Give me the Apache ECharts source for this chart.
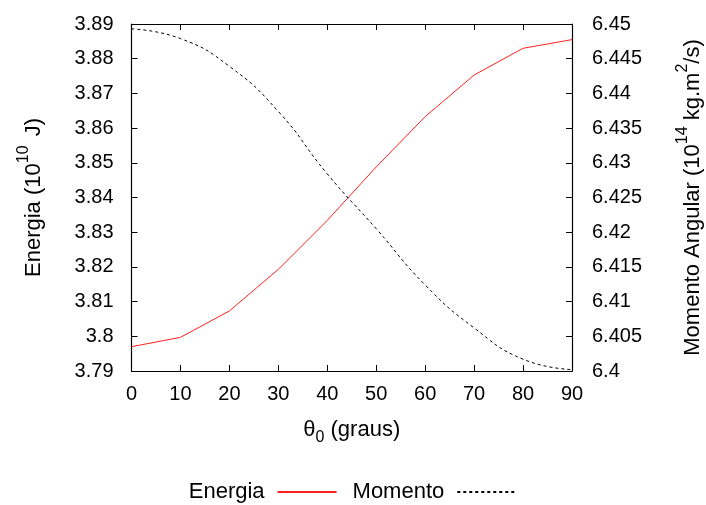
<!DOCTYPE html>
<html>
<head>
<meta charset="utf-8">
<script src="https://cdn.jsdelivr.net/npm/echarts@6/dist/echarts.min.js"></script>
<style>html,body{margin:0;padding:0;background:#fff}#c{width:706px;height:505px}</style>
</head>
<body>
<div id="c"></div>
<script>
const theta = [0, 10, 20, 30, 40, 50, 60, 70, 80, 90];
const energia = [3.7970, 3.7997, 3.8073, 3.8193, 3.8334, 3.8488, 3.8633, 3.8753, 3.8830, 3.8855];
const momento = [6.4493, 6.4479, 6.4439, 6.4374, 6.4284, 6.4205, 6.4124, 6.4062, 6.4017, 6.4002];

const FONT = 'Liberation Sans, Arial, sans-serif';
const FT = 20, FN = 22, FSS = 16;
const chart = echarts.init(document.getElementById('c'));
const tickStyle = { show: true, inside: true, length: 6, lineStyle: { color: '#000', width: 1 } };
const lineAxis = { show: true, onZero: false, lineStyle: { color: '#000', width: 1.2 } };
const lbl = { color: '#000', fontSize: FT, fontFamily: FONT };

chart.setOption({
  animation: false,
  grid: { left: 131.5, right: 134, top: 24, bottom: 134, containLabel: false, outerBoundsMode: 'none' },
  legend: {
    bottom: 0, padding: [5, 5, 2, 5], left: 'center', align: 'right', itemWidth: 59, itemHeight: 12, itemGap: 15,
    itemStyle: { opacity: 0 },
    textStyle: { color: '#000', fontSize: FN, fontFamily: FONT, padding: [0, 8, 0, 0] },
    data: ['Energia', 'Momento']
  },
  xAxis: [{
    type: 'value', min: 0, max: 90, interval: 10, position: 'bottom',
    axisLine: lineAxis, axisTick: tickStyle, splitLine: { show: false },
    axisLabel: Object.assign({ margin: 13 }, lbl),
    name: '{n|θ}{s|0}{n| (graus)}', nameLocation: 'middle', nameGap: 48,
    nameTextStyle: { rich: {
      n: { fontSize: FN, fontFamily: FONT, color: '#000', verticalAlign: 'top', lineHeight: 27 },
      s: { fontSize: FSS, fontFamily: FONT, color: '#000', verticalAlign: 'bottom', lineHeight: 27, padding: [9, 0, 0, 0] }
    } }
  }, {
    type: 'value', min: 0, max: 90, interval: 10, position: 'top',
    axisLine: lineAxis, axisTick: tickStyle, axisLabel: { show: false }, splitLine: { show: false }
  }],
  yAxis: [{
    type: 'value', min: 3.79, max: 3.89, interval: 0.01, position: 'left',
    axisLine: lineAxis, axisTick: tickStyle, splitLine: { show: false },
    axisLabel: Object.assign({ margin: 18 }, lbl),
    name: '{n|Energia (10}{s|10}{n| J)}', nameLocation: 'middle', nameGap: 87, nameRotate: 90,
    nameTextStyle: { rich: {
      n: { fontSize: FN, fontFamily: FONT, color: '#000', verticalAlign: 'bottom', lineHeight: 29 },
      s: { fontSize: FSS, fontFamily: FONT, color: '#000', verticalAlign: 'top', lineHeight: 29, padding: [0, 3, 0, 0] }
    } }
  }, {
    type: 'value', min: 6.4, max: 6.45, interval: 0.005, position: 'right',
    axisLine: lineAxis, axisTick: tickStyle, splitLine: { show: false },
    axisLabel: Object.assign({ margin: 20 }, lbl),
    name: '{n|Momento Angular (10}{s|14}{n| kg.m}{s|2}{n|/s)}', nameLocation: 'middle', nameGap: 103, nameRotate: 90,
    nameTextStyle: { rich: {
      n: { fontSize: FN, fontFamily: FONT, color: '#000', verticalAlign: 'bottom', lineHeight: 29 },
      s: { fontSize: FSS, fontFamily: FONT, color: '#000', verticalAlign: 'top', lineHeight: 29 }
    } }
  }],
  series: [{
    name: 'Energia', type: 'line', xAxisIndex: 0, yAxisIndex: 0,
    data: theta.map((t, i) => [t, energia[i]]),
    symbol: 'none', showSymbol: false,
    lineStyle: { color: '#ff2020', width: 1 }, itemStyle: { color: '#ff2020' }
  }, {
    name: 'Momento', type: 'line', xAxisIndex: 0, yAxisIndex: 1,
    data: theta.map((t, i) => [t, momento[i]]),
    symbol: 'none', showSymbol: false, smooth: 0.5,
    lineStyle: { color: '#000', width: 1, type: [3, 3] }, itemStyle: { color: '#000' }
  }]
});
</script>
</body>
</html>
